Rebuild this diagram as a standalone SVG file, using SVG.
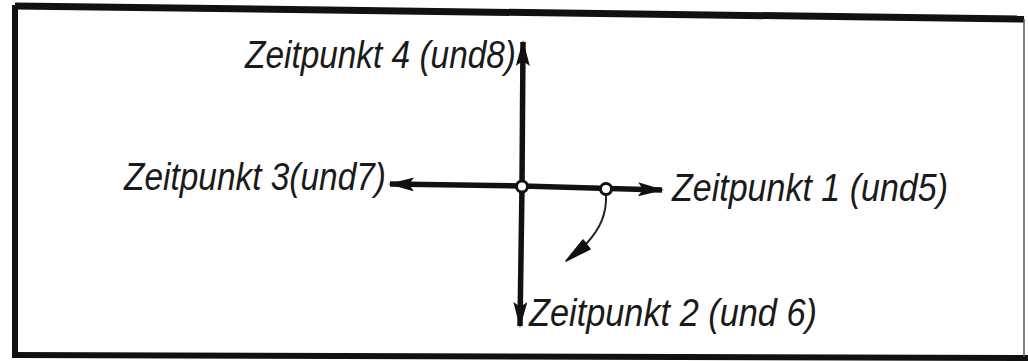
<svg xmlns="http://www.w3.org/2000/svg" width="1028" height="361" viewBox="0 0 1028 361">
<style>
.lbl{font-family:"Liberation Sans",Arial,sans-serif;font-style:italic;font-size:38px;fill:#1a1a1a}
.axis{stroke:#111;stroke-width:5.5;fill:none}
.thin{stroke:#222;stroke-width:2;fill:none}
.pt{fill:#fff;stroke:#111;stroke-width:3}
</style>
<defs>
<marker id="big" viewBox="0 0 26 14" refX="24" refY="7" markerWidth="26" markerHeight="14" markerUnits="userSpaceOnUse" orient="auto">
<path d="M0,0 L26,7 L0,14 L5,7 Z" fill="#111"/>
</marker>
</defs>
<rect width="1028" height="361" fill="#fff"/>
<g id="frame">
<path d="M15,6 L1024,19" stroke="#111" stroke-width="7" fill="none"/>
<path d="M15,5 L15,355" stroke="#111" stroke-width="6" fill="none"/>
<path d="M12,355 L1028,358" stroke="#111" stroke-width="6" fill="none"/>
<path d="M1024,19 L1024,357" stroke="#555" stroke-width="1.5" fill="none"/>
</g>
<g id="connectors">
<path class="axis" d="M522,186 L390,184" marker-end="url(#big)"/>
<path class="axis" d="M522,186 L662,190" marker-end="url(#big)"/>
<path class="axis" d="M522,186 L523,42" marker-end="url(#big)"/>
<path class="axis" d="M522,186 L520,326" marker-end="url(#big)"/>
<path class="thin" d="M606,194 C607,214 600,229 586,244" />
<path d="M583,240 L566,261 L590,249 Z" fill="#111" stroke="#111" stroke-width="1.5" stroke-linejoin="round"/>
</g>
<g id="origin"><circle class="pt" cx="522" cy="186.5" r="5.5"/></g>
<g id="point"><circle class="pt" cx="606" cy="189" r="5.5"/></g>
<g id="t4"><text class="lbl" x="245" y="68" textLength="271" lengthAdjust="spacingAndGlyphs">Zeitpunkt 4 (und8)</text></g>
<g id="t3"><text class="lbl" x="124" y="190" textLength="262" lengthAdjust="spacingAndGlyphs">Zeitpunkt 3(und7)</text></g>
<g id="t1"><text class="lbl" x="672" y="201" textLength="276" lengthAdjust="spacingAndGlyphs">Zeitpunkt 1 (und5)</text></g>
<g id="t2"><text class="lbl" x="529" y="326" textLength="288" lengthAdjust="spacingAndGlyphs">Zeitpunkt 2 (und 6)</text></g>
</svg>
